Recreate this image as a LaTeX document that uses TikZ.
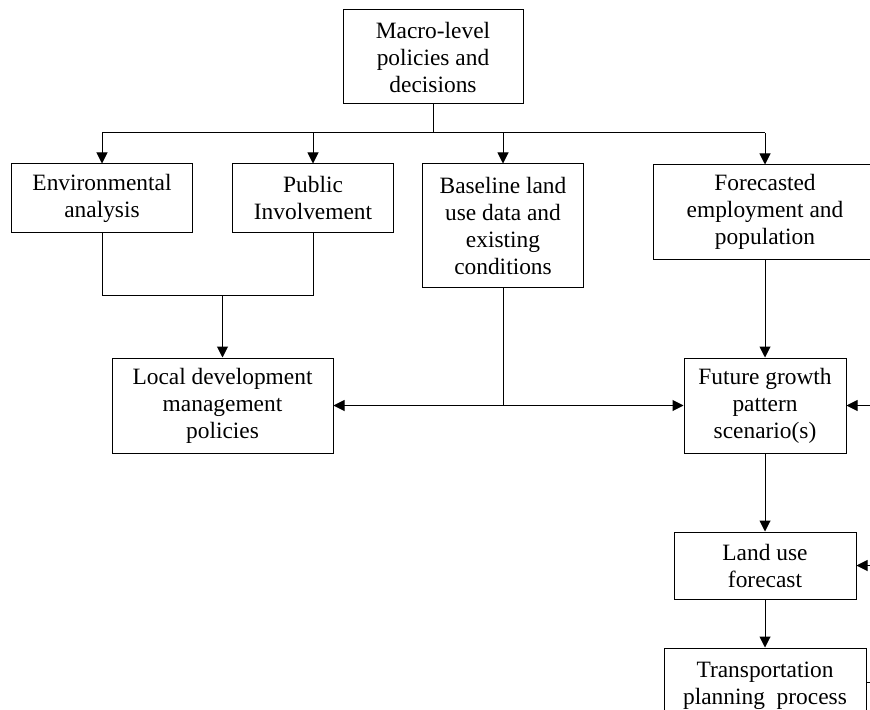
\documentclass[tikz,border=0pt]{standalone}
\usepackage{fontspec}
\setmainfont{Liberation Serif}
\usetikzlibrary{arrows.meta,positioning}
\begin{document}
\begin{tikzpicture}[
    x=1bp, y=-1bp,
    every node/.style={align=center},
    box/.style={draw, line width=1bp, inner sep=0pt,
      font=\fontsize{23.4bp}{27bp}\selectfont},
    link/.style={line width=1bp},
    arr/.style={link, -{Triangle[width=11bp,length=11bp]}}
  ]
    \clip (0,0) rectangle (870,710);
    \node[box, minimum width=180bp, minimum height=94bp] (macro) at (433,57)
      {Macro-level\\policies and\\decisions};
    \node[box, minimum width=181bp, minimum height=68bp] (env) at (102,198)
      {Environmental\\analysis};
    \node[box, minimum width=161bp, minimum height=68bp] (pub) at (313,198)
      {Public\\Involvement};
    \node[box, minimum width=161bp, minimum height=123bp] (base) at (503,225.5)
      {Baseline land\\use data and\\existing\\conditions};
    \node[box, minimum width=224bp, minimum height=94bp] (fore) at (765,212)
      {Forecasted\\employment and\\population};
    \node[box, minimum width=221bp, minimum height=95bp] (local) at (222.5,405.5)
      {Local development\\management\\policies};
    \node[box, minimum width=162bp, minimum height=95bp] (future) at (765,405.5)
      {Future growth\\pattern\\scenario(s)};
    \node[box, minimum width=182bp, minimum height=67bp] (land) at (765,565.5)
      {Land use\\forecast};
    \node[box, minimum width=202bp, minimum height=76bp] (trans) at (765,686)
      {Transportation\\planning~ process};
    \coordinate (split) at (433,133);
    \coordinate (merge) at (222.5,295);
    \coordinate (rin1) at (885,405.5);
    \coordinate (rin2) at (885,565.5);
    \coordinate (rout) at (885,682);
    \draw[link] (macro) -- (split);
    \draw[link] (env.north |- split) -- (fore.north |- split);
    \draw[arr] (env.north |- split) -- (env);
    \draw[arr] (pub.north |- split) -- (pub);
    \draw[arr] (base.north |- split) -- (base);
    \draw[arr] (fore.north |- split) -- (fore);
    \draw[link] (env) -- (env.south |- merge) -- (pub.south |- merge) -- (pub);
    \draw[arr] (merge) -- (local);
    \draw[link] (base) -- (base.south |- local.east) coordinate (bmid);
    \draw[arr] (bmid) -- (local);
    \draw[arr] (bmid) -- (future);
    \draw[arr] (fore) -- (future);
    \draw[arr] (rin1) -- (future);
    \draw[arr] (future) -- (land);
    \draw[arr] (rin2) -- (land);
    \draw[arr] (land) -- (trans);
    \draw[link] (trans.east |- rout) -- (rout);
  \end{tikzpicture}
\end{document}
